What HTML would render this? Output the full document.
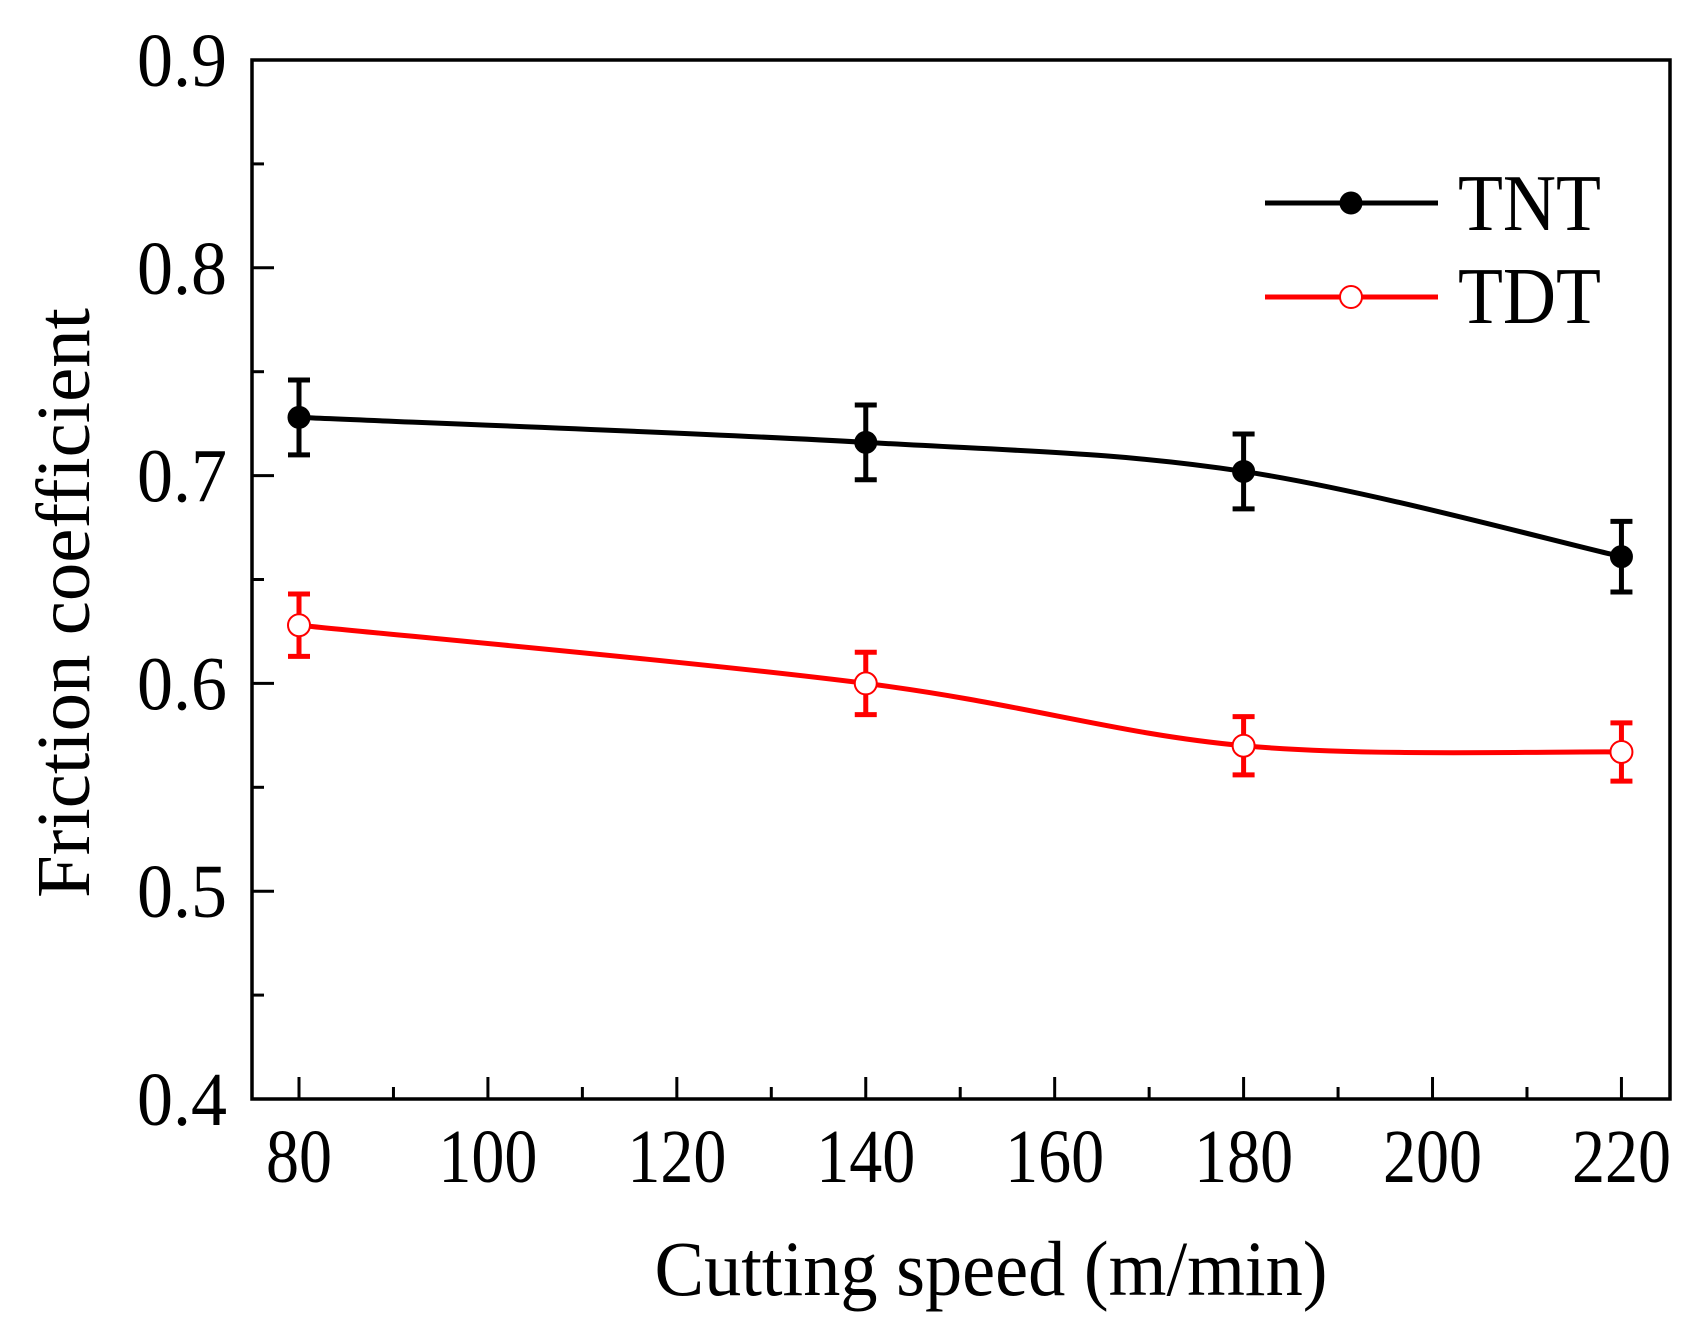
<!DOCTYPE html>
<html><head><meta charset="utf-8"><style>
html,body{margin:0;padding:0;background:#fff;}
svg text{font-family:"Liberation Serif",serif;fill:#000;}
</style></head><body>
<svg id="chart" width="1695" height="1331" viewBox="0 0 1695 1331" xmlns="http://www.w3.org/2000/svg">
<rect x="0" y="0" width="1695" height="1331" fill="#fff"/>
</svg>
<script>
const categories=[80,140,180,220];
const tntValues=[0.728,0.716,0.702,0.661];
const tntErrors=[0.018,0.018,0.018,0.017];
const tdtValues=[0.628,0.600,0.570,0.567];
const tdtErrors=[0.015,0.015,0.014,0.014];
const xTicks=[80,100,120,140,160,180,200,220];
const yTicks=[0.4,0.5,0.6,0.7,0.8,0.9];

const L=252,R=1670,T=60,B=1099;
const X=v=>299+(v-80)*9.446;
const Y=v=>B-(v-0.4)/0.5*(B-T);
const svg=document.getElementById('chart');
const NS='http://www.w3.org/2000/svg';
function mk(tag,attrs,parent){const e=document.createElementNS(NS,tag);for(const k in attrs)e.setAttribute(k,attrs[k]);(parent||svg).appendChild(e);return e;}

const frame=mk('rect',{x:L,y:T,width:R-L,height:B-T,fill:'none',stroke:'#000','stroke-width':3.5});



for(let v=70;v<=230;v+=10){
  if(X(v)<=L||X(v)>=R)continue;
  const major=v%20===0;
  const t=mk('line',{x1:X(v),x2:X(v),y1:B,y2:B-(major?22:12),stroke:'#000','stroke-width':3});
  
  
}
xTicks.forEach(v=>{
  const s=String(v);
  const t=mk('text',{x:X(v),y:1182,'font-size':76,'text-anchor':'middle',textLength:s.length*33,lengthAdjust:'spacingAndGlyphs'});
  t.textContent=s;
  
  
});
for(let i=0;i<=10;i++){
  const v=0.4+i*0.05;
  const major=i%2===0;
  const t=mk('line',{x1:L,x2:L+(major?22:12),y1:Y(v),y2:Y(v),stroke:'#000','stroke-width':3});
  
  
}
yTicks.forEach(v=>{
  const t=mk('text',{x:227,y:Y(v)+26,'font-size':76,'text-anchor':'end',textLength:90,lengthAdjust:'spacingAndGlyphs'});
  t.textContent=v.toFixed(1);
  
  
});
const xt=mk('text',{x:991,y:1295,'font-size':78,'text-anchor':'middle',textLength:673,lengthAdjust:'spacingAndGlyphs'});
xt.textContent='Cutting speed (m/min)';


const yt=mk('text',{x:0,y:0,'font-size':76,'text-anchor':'middle',textLength:590,lengthAdjust:'spacingAndGlyphs',transform:'translate(89,603) rotate(-90)'});
yt.textContent='Friction coefficient';



function smooth(pts){
  let d='M'+pts[0][0]+','+pts[0][1];
  for(let i=0;i<pts.length-1;i++){
    const p0=pts[i-1]||pts[i],p1=pts[i],p2=pts[i+1],p3=pts[i+2]||p2;
    const c1=[p1[0]+(p2[0]-p0[0])/6,p1[1]+(p2[1]-p0[1])/6];
    const c2=[p2[0]-(p3[0]-p1[0])/6,p2[1]-(p3[1]-p1[1])/6];
    d+=' C'+c1+' '+c2+' '+p2;
  }
  return d;
}
function series(vals,errs,color,filled,name){
  const pts=categories.map((c,i)=>[X(c),Y(vals[i])]);
  const p=mk('path',{d:smooth(pts),fill:'none',stroke:color,'stroke-width':5});
  
  
  categories.forEach((c,i)=>{
    const x=X(c),y1=Y(vals[i]+errs[i]),y2=Y(vals[i]-errs[i]);
    const e=mk('path',{d:`M${x-11},${y1}H${x+11}M${x},${y1}V${y2}M${x-11},${y2}H${x+11}`,stroke:color,'stroke-width':5,fill:'none'});
    
    
    const m=mk('circle',{cx:x,cy:Y(vals[i]),r:11,fill:filled?color:'#fff',stroke:color,'stroke-width':filled?1:2});
    
    
  });
}
series(tntValues,tntErrors,'#000',true,'tnt');
series(tdtValues,tdtErrors,'#f00',false,'tdt');

[['TNT','#000',true,203,230],['TDT','#f00',false,297,323]].forEach(([lab,col,f,y,by])=>{
  const l=mk('line',{x1:1265,x2:1438,y1:y,y2:y,stroke:col,'stroke-width':5});
  
  
  const c=mk('circle',{cx:1351,cy:y,r:11,fill:f?col:'#fff',stroke:col,'stroke-width':f?1:2});
  
  
  const t=mk('text',{x:1458,y:by,'font-size':80,textLength:143,lengthAdjust:'spacingAndGlyphs'});
  t.textContent=lab;
  
  
});
</script>
</body></html>
